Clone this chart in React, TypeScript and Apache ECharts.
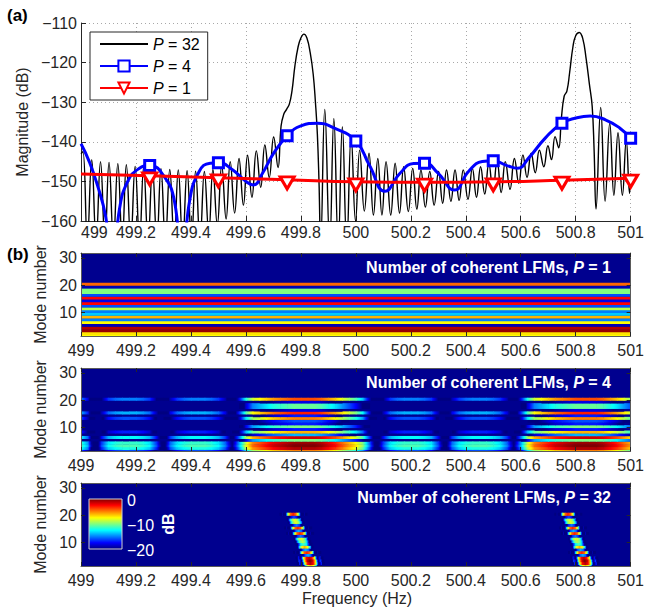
import React, { useEffect, useRef } from 'react';
import * as echarts from 'echarts';

const FONT = '"Liberation Sans", Arial, Helvetica, sans-serif';
const AXIS = '#262626';

// ---------- (a) spectra ----------
const p32Curve: [number, number][] = [
  [499.000, -143.0], [499.007, -142.5], [499.023, -165], [499.039, -144.5], [499.055, -165],
  [499.071, -145.0], [499.087, -165], [499.102, -145.2], [499.118, -165], [499.134, -145.5],
  [499.150, -165], [499.165, -145.8], [499.181, -165], [499.197, -146.2], [499.213, -165],
  [499.228, -146.4], [499.244, -165], [499.260, -146.6], [499.276, -165], [499.291, -146.8],
  [499.307, -165], [499.323, -147.0], [499.339, -165], [499.354, -147.1], [499.370, -165],
  [499.386, -147.3], [499.402, -165], [499.417, -147.4], [499.433, -165], [499.449, -147.5],
  [499.465, -163], [499.480, -147.0], [499.496, -161], [499.512, -146.0], [499.528, -159.5],
  [499.543, -145.0], [499.559, -158], [499.575, -144.2], [499.591, -156], [499.606, -143.4],
  [499.622, -154], [499.638, -142.3], [499.654, -151.5], [499.669, -140.8], [499.685, -149],
  [499.701, -138.8], [499.717, -146.5],
  [499.728, -136], [499.738, -133], [499.748, -131.8], [499.758, -130.5], [499.768, -127],
  [499.778, -121], [499.790, -116], [499.800, -113.8], [499.811, -112.8], [499.822, -113.8],
  [499.834, -117.5], [499.845, -123], [499.853, -130], [499.860, -138], [499.866, -150], [499.872, -166],
  [499.887, -131.8], [499.905, -166], [499.920, -134.1], [499.936, -166], [499.951, -136.2],
  [499.967, -166], [499.983, -138.5], [499.999, -160], [500.014, -142.1], [500.031, -157.5],
  [500.048, -142.9], [500.064, -158.5], [500.080, -144.2], [500.095, -158.5], [500.110, -145.0],
  [500.127, -158.5], [500.143, -145.4], [500.159, -158], [500.174, -146.3], [500.191, -157.6],
  [500.207, -146.7], [500.222, -157], [500.237, -147.1], [500.253, -156.5], [500.269, -147.5],
  [500.285, -156], [500.301, -147.5], [500.316, -155.5], [500.330, -147.1], [500.346, -155],
  [500.361, -147.1], [500.376, -154.8], [500.391, -147.1], [500.408, -154.5], [500.424, -146.7],
  [500.439, -154], [500.454, -146.3], [500.469, -153.2], [500.484, -145.4], [500.499, -152.5],
  [500.514, -144.8], [500.529, -152.8], [500.544, -145.0], [500.561, -152.0], [500.577, -144.2],
  [500.593, -150.5], [500.608, -143.3], [500.623, -149], [500.638, -142.9], [500.653, -147.8],
  [500.668, -142.1], [500.684, -146.3], [500.699, -141.0], [500.712, -144.5], [500.725, -138.7],
  [500.738, -141.5],
  [500.748, -134], [500.758, -128.5], [500.768, -127.2], [500.778, -122.5], [500.790, -116],
  [500.800, -113.2], [500.813, -112.4], [500.826, -114], [500.838, -119], [500.850, -125.5],
  [500.860, -131], [500.867, -142], [500.874, -157],
  [500.891, -131.3], [500.907, -155], [500.924, -135.3], [500.939, -153.5], [500.954, -137.7],
  [500.970, -153.5], [500.984, -139.6], [500.996, -153], [501.000, -148],
];

const p4Curve: [number, number][] = [
  [499.00, -140.5], [499.03, -145], [499.06, -151], [499.09, -159], [499.115, -172], [499.14, -157],
  [499.17, -150], [499.21, -146.8], [499.25, -146.0], [499.30, -148.5], [499.34, -155],
  [499.367, -172], [499.395, -155], [499.43, -147.5], [499.47, -145.4], [499.50, -145.3],
  [499.55, -147.0], [499.60, -150.0], [499.627, -150.9], [499.66, -148], [499.70, -143],
  [499.75, -138.5], [499.80, -136], [499.86, -135.3], [499.92, -136.5], [500.00, -139.8],
  [500.05, -146], [500.106, -152.5], [500.16, -148], [500.21, -145.5], [500.25, -145.4],
  [500.30, -148], [500.359, -152.2], [500.41, -147.5], [500.46, -145], [500.50, -144.8],
  [500.55, -146], [500.588, -146.7], [500.63, -144], [500.69, -139], [500.75, -135.3],
  [500.80, -134], [500.853, -133.5], [500.91, -134.5], [500.96, -136.5], [501.00, -139.1],
];

const p1Curve: [number, number][] = [
  [499.00, -148.1], [499.25, -148.6], [499.50, -149.1], [499.75, -149.6], [500.00, -150.1],
  [500.25, -150.2], [500.50, -150.1], [500.75, -149.7], [501.00, -149.2],
];

const markerFreqs = [499.25, 499.5, 499.75, 500, 500.25, 500.5, 500.75, 501];

// ---------- (b) modal maps (dB) ----------
const modeNumbers = [1, 2, 3, 4, 5, 6, 7, 8, 9, 10, 11, 12, 13, 14, 15, 16, 17, 18, 19, 20];

const p1ModeLevel = [-7.5, -7, -0.5, -1, -19, -7.5, -15, -6, -13.5, -15,
  -9, -16, -2.5, -18, -2.5, -16, -10, -10, -19, -4.5];

const p4ModeGain = [-5, -1, 0, -0.5, -10, -1.5, -14, -6, -17, -10,
  -17, -16, -5, -17, -3, -18, -10.5, -10.5, -18, -4];

const p4EnvStart = 499;
const p4EnvStep = 0.025;
const p4Envelope = [
  -11, -14, -24, -16, -12.5, -11.5, -11, -11, -11, -11.5,
  -12.5, -16, -22, -15, -12.5, -11.5, -11, -11, -11, -11.5,
  -12.5, -15, -20, -14, -8, -4.5, -3.5, -2.5, -1.5, -1,
  -0.5, 0, 0, 0, 0, -0.5, -1.5, -2.5, -4, -5.5,
  -7, -9.5, -15, -22, -16, -12.5, -11.5, -11, -11, -11,
  -11.5, -12.5, -16, -22, -15, -12.5, -11.5, -11, -11, -11,
  -11.5, -12.5, -15, -20, -14, -8, -4.5, -3.5, -2.5, -1.5,
  -1, -0.5, 0, 0, 0, 0, -0.5, -1.5, -2.5, -4,
  -5.5,
];

const p32Center = [499.836, 499.835, 499.833, 499.830, 499.826, 499.822, 499.818, 499.814, 499.810, 499.806,
  499.802, 499.799, 499.796, 499.792, 499.789, 499.785, 499.782, 499.778, 499.775, 499.772];
const p32Level = [-6, -1, 0, -1, -14, -3, -14, -6, -11, -9,
  -8, -15, -3, -14, -3, -15, -8, -8, -16, -3];
const p32KernelStep = 0.01;
const p32Kernel = [-28, -16, -20, -7, -1.5, 0, -1.5, -7, -20, -16, -28];
const p32Repeat = [0, 1];

const colorbarTicks = [0, -10, -20];

// ---------- helpers ----------
const clamp01 = (x: number) => Math.max(0, Math.min(1, x));
function jet(v: number): string {
  const t = clamp01((v + 20) / 20);
  const r = clamp01(1.5 - Math.abs(4 * t - 3));
  const g = clamp01(1.5 - Math.abs(4 * t - 2));
  const b = clamp01(1.5 - Math.abs(4 * t - 1));
  const h = (x: number) => Math.round(x * 255).toString(16).padStart(2, '0');
  return '#' + h(r) + h(g) + h(b);
}
const minus = (v: number) => (v < 0 ? '\u2212' + Math.abs(v) : String(v));
const fmtFreq = (v: number) => String(Math.round(v * 10) / 10);

const ROW_UP = 0.8;
const ROW_DOWN = 0.2;

function renderCell(params: any, api: any) {
  const cs = params.coordSys;
  const f0 = api.value(0), f1 = api.value(1), m = api.value(2);
  const v0 = api.value(3), v1 = api.value(4);
  const a = api.coord([f0, m + ROW_UP]);
  const b = api.coord([f1, m - ROW_DOWN]);
  const x0 = Math.min(a[0], b[0]), x1 = Math.max(a[0], b[0]);
  const y0 = Math.min(a[1], b[1]), y1 = Math.max(a[1], b[1]);
  const cx0 = Math.max(x0, cs.x), cx1 = Math.min(x1 + 0.6, cs.x + cs.width);
  const cy0 = Math.max(y0 - 0.3, cs.y), cy1 = Math.min(y1, cs.y + cs.height);
  if (cx1 <= cx0 || cy1 <= cy0) return null;
  let fill: any;
  if (v0 === v1) fill = jet(v0);
  else {
    const stops = [0, 0.25, 0.5, 0.75, 1].map((s) => ({ offset: s, color: jet(v0 + (v1 - v0) * s) }));
    fill = new echarts.graphic.LinearGradient(x0, 0, x1, 0, stops, true);
  }
  return { type: 'rect', shape: { x: cx0, y: cy0, width: cx1 - cx0, height: cy1 - cy0 }, style: { fill } };
}

function buildP1() {
  return modeNumbers.map((m, i) => [499, 501, m, p1ModeLevel[i], p1ModeLevel[i]]);
}
function buildP4() {
  const out: number[][] = [];
  modeNumbers.forEach((m, i) => {
    for (let k = 0; k < p4Envelope.length - 1; k++) {
      const v0 = p4ModeGain[i] + p4Envelope[k];
      const v1 = p4ModeGain[i] + p4Envelope[k + 1];
      if (Math.max(v0, v1) < -20.5) continue;
      out.push([p4EnvStart + k * p4EnvStep, p4EnvStart + (k + 1) * p4EnvStep, m, v0, v1]);
    }
  });
  return out;
}
function buildP32() {
  const out: number[][] = [];
  const half = (p32Kernel.length - 1) / 2;
  p32Repeat.forEach((shift) => {
    modeNumbers.forEach((m, i) => {
      for (let k = 0; k < p32Kernel.length - 1; k++) {
        const v0 = p32Level[i] + p32Kernel[k];
        const v1 = p32Level[i] + p32Kernel[k + 1];
        if (Math.max(v0, v1) < -20.5) continue;
        const c = p32Center[i] + shift;
        out.push([c + (k - half) * p32KernelStep, c + (k + 1 - half) * p32KernelStep, m, v0, v1]);
      }
    });
  });
  return out;
}

export default function App() {
  const ref = useRef<HTMLDivElement>(null);
  useEffect(() => {
    if (!ref.current) return;
    const chart = echarts.init(ref.current, undefined, { renderer: 'svg' });

    const L = 81, W = 553;
    const heatTops = [253, 368, 483];
    const HH = 83;

    const grids: any[] = [{ left: L, top: 23, width: W, height: 198 }];
    heatTops.forEach((t) => grids.push({ left: L, top: t, width: W, height: HH, show: true, backgroundColor: '#00008F', borderWidth: 0 }));

    const tickLabel = { fontSize: 16, color: AXIS, fontFamily: FONT };
    const axisLine = { show: true, onZero: false, lineStyle: { color: AXIS, width: 1 } };
    const boxLine = { show: true, onZero: false, lineStyle: { color: '#5a5a5a', width: 1 } };

    const xAxes: any[] = [{
      gridIndex: 0, type: 'value', min: 499, max: 501, interval: 0.2,
      axisLine, axisTick: { show: true, inside: true, length: 5, lineStyle: { color: AXIS } },
      axisLabel: { ...tickLabel, margin: 3, formatter: fmtFreq, alignMinLabel: 'left' },
      splitLine: { show: true, lineStyle: { color: '#a8a8a8', type: [1, 3], width: 1 } },
    }];
    const yAxes: any[] = [{
      gridIndex: 0, type: 'value', min: -160, max: -110, interval: 10,
      name: 'Magnitude (dB)', nameLocation: 'middle', nameGap: 50,
      nameTextStyle: { fontSize: 16, color: AXIS, fontFamily: FONT },
      axisLine, axisTick: { show: true, inside: true, length: 5, lineStyle: { color: AXIS } },
      axisLabel: { ...tickLabel, margin: 4, formatter: minus },
      splitLine: { show: true, lineStyle: { color: '#a8a8a8', type: [1, 3], width: 1 } },
    }];
    heatTops.forEach((_, i) => {
      const g = i + 1;
      xAxes.push({
        gridIndex: g, type: 'value', min: 499, max: 501, interval: 0.2, position: 'bottom', z: 10,
        axisLine: boxLine, axisTick: { show: true, inside: true, length: 4, lineStyle: { color: AXIS } },
        axisLabel: { ...tickLabel, margin: 6, formatter: fmtFreq }, splitLine: { show: false },
      });
      xAxes.push({
        gridIndex: g, type: 'value', min: 499, max: 501, interval: 0.2, position: 'top', z: 10,
        axisLine: boxLine, axisTick: { show: true, inside: true, length: 4, lineStyle: { color: AXIS } },
        axisLabel: { show: false }, splitLine: { show: false },
      });
      yAxes.push({
        gridIndex: g, type: 'value', min: 1.4, max: 31.8, position: 'left', z: 10,
        name: 'Mode number', nameLocation: 'middle', nameGap: 32,
        nameTextStyle: { fontSize: 16, color: AXIS, fontFamily: FONT },
        axisLine: boxLine,
        axisTick: { show: true, inside: true, length: 4, customValues: [10, 20, 30], lineStyle: { color: AXIS } },
        axisLabel: { ...tickLabel, margin: 4, customValues: [10, 20, 30] }, splitLine: { show: false },
      });
      yAxes.push({
        gridIndex: g, type: 'value', min: 1.4, max: 31.8, position: 'right', z: 10,
        axisLine: boxLine,
        axisTick: { show: true, inside: true, length: 4, customValues: [10, 20, 30], lineStyle: { color: AXIS } },
        axisLabel: { show: false, customValues: [10, 20, 30] }, splitLine: { show: false },
      });
    });

    const p4Data = p4Curve.map(([f, v]) => (markerFreqs.includes(f) ? [f, v] : { value: [f, v], symbol: 'none' }));
    const p1Data = p1Curve.map(([f, v]) => (markerFreqs.includes(f) ? [f, v] : { value: [f, v], symbol: 'none' }));

    const heatData = [buildP1(), buildP4(), buildP32()];
    const heatSeries = heatData.map((d, i) => ({
      type: 'custom', xAxisIndex: 1 + i * 2, yAxisIndex: 1 + i * 2,
      renderItem: renderCell, data: d, z: 2, silent: true,
    }));

    const titleRich = {
      b: { fontSize: 16, fontWeight: 'bold', fill: '#fff', color: '#fff', fontFamily: FONT },
      bi: { fontSize: 16, fontWeight: 'bold', fontStyle: 'italic', fill: '#fff', color: '#fff', fontFamily: FONT },
    };
    const titles = ['1', '4', '32'].map((p, i) => ({
      type: 'text', z: 100, x: 611, y: heatTops[i] + 14,
      style: {
        text: `{b|Number of coherent LFMs, }{bi|P}{b| = ${p}}`, rich: titleRich,
        align: 'right', verticalAlign: 'middle', fill: '#fff',
      },
    }));

    const cbX = 89, cbY = 499, cbW = 33, cbH = 50;
    const cbStops = [0, 0.125, 0.25, 0.375, 0.5, 0.625, 0.75, 0.875, 1].map((s) => ({ offset: s, color: jet(-20 * s) }));
    const colorbar: any[] = [
      {
        type: 'rect', z: 100, shape: { x: cbX, y: cbY, width: cbW, height: cbH },
        style: { fill: new echarts.graphic.LinearGradient(0, 0, 0, 1, cbStops), stroke: '#d0d0d0', lineWidth: 1 },
      },
      ...colorbarTicks.map((t) => ({
        type: 'text', z: 100, x: cbX + cbW + 5, y: cbY + (-t / 20) * cbH + 1,
        style: { text: minus(t), fontSize: 16, fontFamily: FONT, fill: '#fff', align: 'left', verticalAlign: 'middle' },
      })),
      {
        type: 'text', z: 100, x: 168, y: cbY + cbH / 2, rotation: Math.PI / 2,
        style: { text: 'dB', fontSize: 16, fontWeight: 'bold', fontFamily: FONT, fill: '#fff', align: 'center', verticalAlign: 'middle' },
      },
    ];

    chart.setOption({
      animation: false,
      backgroundColor: '#fff',
      grid: grids,
      xAxis: xAxes,
      yAxis: yAxes,
      legend: {
        left: 90, top: 32, orient: 'vertical', itemWidth: 48, itemHeight: 14, itemGap: 6,
        padding: [4, 8, 4, 9], backgroundColor: '#fff', borderColor: AXIS, borderWidth: 1, borderRadius: 0,
        selectedMode: false,
        data: [{ name: 'P = 32', itemStyle: { opacity: 0 } }, { name: 'P = 4' }, { name: 'P = 1' }],
        formatter: (name: string) => `{i|P}${name.slice(1)}`,
        textStyle: {
          fontSize: 16, color: '#000', fontFamily: FONT,
          rich: { i: { fontStyle: 'italic', fontSize: 16, color: '#000', fontFamily: FONT } },
        },
      },
      graphic: [
        { type: 'text', z: 100, x: 7, y: 15, style: { text: '(a)', fontSize: 17, fontWeight: 'bold', fontFamily: FONT, fill: '#000', verticalAlign: 'middle' } },
        { type: 'text', z: 100, x: 7, y: 254, style: { text: '(b)', fontSize: 17, fontWeight: 'bold', fontFamily: FONT, fill: '#000', verticalAlign: 'middle' } },
        { type: 'text', z: 100, x: 357, y: 598, style: { text: 'Frequency (Hz)', fontSize: 16, fontFamily: FONT, fill: AXIS, align: 'center', verticalAlign: 'middle' } },
        ...titles,
        ...colorbar,
      ],
      series: [
        {
          type: 'line', name: 'P = 32', xAxisIndex: 0, yAxisIndex: 0, data: p32Curve,
          symbol: 'none', showSymbol: false, smooth: 0.45, clip: true,
          lineStyle: { color: '#000', width: 1.4 }, itemStyle: { color: '#000' }, z: 2,
        },
        {
          type: 'line', name: 'P = 4', xAxisIndex: 0, yAxisIndex: 0, data: p4Data,
          symbol: 'rect', symbolSize: 10, smooth: 0.5, clip: true,
          lineStyle: { color: '#0000ff', width: 3 },
          itemStyle: { color: '#ffffff', borderColor: '#0000ff', borderWidth: 3 }, z: 3,
        },
        {
          type: 'line', name: 'P = 1', xAxisIndex: 0, yAxisIndex: 0, data: p1Data,
          symbol: 'triangle', symbolRotate: 180, symbolSize: [14, 12], symbolOffset: [0, 3], smooth: true, clip: true,
          lineStyle: { color: '#ff0000', width: 3 },
          itemStyle: { color: '#ffffff', borderColor: '#ff0000', borderWidth: 3 }, z: 4,
        },
        ...heatSeries,
      ],
    });
    return () => chart.dispose();
  }, []);

  return <div ref={ref} style={{ position: 'fixed', left: 0, top: 0, width: 647, height: 612 }} />;
}
